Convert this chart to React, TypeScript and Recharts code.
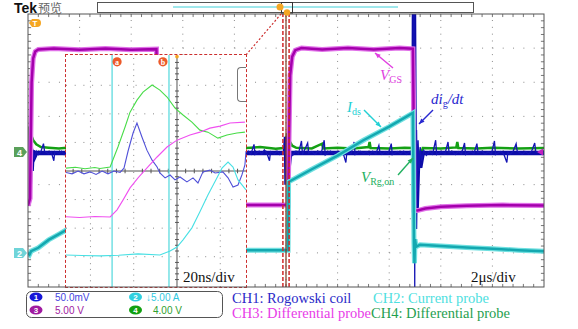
import { LineChart, Line, XAxis, YAxis, ReferenceLine, ReferenceDot } from "recharts";

// main screen: time and amplitude in divisions (2 µs/div)
const mainGridX = [1, 2, 3, 4, 5, 6, 7, 8, 9];
const mainGridY = [-3, -2, -1, 0, 1, 2, 3];
const minorX = Array.from({ length: 49 }, (_, i) => (i + 1) * 0.2);
const minorY = Array.from({ length: 39 }, (_, i) => -3.8 + i * 0.2);

// CH1 Rogowski coil (dig/dt): persistence band and the fast spikes on it
const ch1Band: [number, number][] = [
  [0, -0.07], [0.02, 0.3], [0.035, -1.0], [0.05, 0.25], [0.07, -0.6], [0.09, 0.0], [0.12, -0.2],
  [0.16, -0.07], [2.45, -0.07], [2.5, 0.4], [2.51, -1.0], [2.53, 0.2], [2.56, -0.4], [2.6, -0.07],
  [4.98, -0.07], [5.0, 0.4], [5.01, -1.0], [5.03, 0.2], [5.05, -0.5], [5.08, -0.07], [7.47, -0.07],
  [7.48, 4.0], [7.5, -2.3], [7.51, -1.0], [7.53, -1.8], [7.56, -0.3], [7.6, -0.5],
  [7.65, -0.07], [10, -0.07],
];
const ch1Main: [number, number][] = [
  [0, -0.06], [0.02, 0.3], [0.035, -1.0], [0.05, 0.25], [0.07, -0.6], [0.09, 0.05], [0.12, -0.25],
  [0.16, -0.02], [0.2, -0.12], [0.25, -0.03], [0.3, 0.2], [0.32, -0.02], [0.4, -0.1], [0.45, -0.04],
  [0.5, -0.3], [0.52, -0.03], [0.6, -0.09], [0.65, -0.02], [0.7, -0.12], [0.75, -0.05],
  [1.5, -0.07], [2.45, -0.07], [2.5, 0.4], [2.51, -1.0], [2.53, 0.2], [2.56, -0.4], [2.6, -0.07], [4.1, -0.07],
  [4.22, -0.08], [4.27, -0.02], [4.32, -0.11], [4.38, 0.18], [4.4, -0.12], [4.48, -0.02], [4.53, -0.1],
  [4.58, 0.02], [4.63, -0.08], [4.68, -0.3], [4.7, -0.03], [4.78, -0.1], [4.83, -0.02], [4.88, -0.12],
  [4.93, -0.04], [4.98, -0.08], [5.0, 0.4], [5.01, -1.0], [5.03, 0.2], [5.05, -0.5], [5.08, -0.05],
  [5.13, -0.14], [5.18, -0.02], [5.24, -0.1], [5.3, 0.28], [5.32, -0.12], [5.42, 0.22], [5.44, -0.08],
  [5.5, -0.03], [5.56, -0.11], [5.62, -0.02], [5.68, -0.1], [5.74, 0.3], [5.76, -0.13], [5.86, -0.02],
  [5.92, -0.09], [5.98, -0.03], [6.04, -0.11], [6.1, -0.04], [6.16, -0.35], [6.18, -0.06], [6.26, -0.1],
  [6.32, 0.25], [6.34, -0.12], [6.44, -0.02], [6.5, -0.09], [6.56, -0.04], [6.62, -0.12], [6.68, -0.02],
  [6.74, -0.1], [6.8, 0.15], [6.82, -0.04], [6.86, -0.11], [6.92, -0.03], [6.98, -0.1], [7.04, 0.2],
  [7.06, -0.12], [7.16, -0.03], [7.22, -0.1], [7.28, -0.02], [7.34, -0.11], [7.4, -0.03], [7.45, -0.09],
  [7.47, -0.05], [7.48, 4.0], [7.49, -1.5], [7.495, -4.0], [7.5, 2.5], [7.505, -2.3], [7.51, 1.2],
  [7.52, -2.2], [7.53, 0.6], [7.545, -1.2], [7.56, 0.3], [7.58, -0.6], [7.6, 0.1], [7.63, -0.3],
  [7.67, 0.0], [7.72, -0.14], [7.78, -0.03], [7.84, -0.11], [7.9, 0.3], [7.92, -0.12], [8.02, -0.03],
  [8.08, -0.1], [8.14, 0.25], [8.16, -0.06], [8.22, -0.02], [8.28, -0.12], [8.34, -0.03], [8.4, -0.1],
  [8.46, 0.22], [8.48, -0.12], [8.58, -0.03], [8.64, -0.1], [8.7, 0.2], [8.72, -0.06], [8.8, -0.02],
  [8.86, -0.11], [8.92, -0.04], [8.98, -0.1], [9.04, 0.28], [9.06, -0.12], [9.16, -0.03], [9.22, -0.1],
  [9.28, -0.35], [9.3, -0.05], [9.34, -0.11], [9.4, -0.03], [9.46, 0.2], [9.48, -0.02], [9.58, -0.11],
  [9.64, -0.03], [9.7, -0.1], [9.76, -0.02], [9.82, 0.22], [9.84, -0.03], [9.94, -0.1], [10, -0.06],
];

// CH2 current probe (Ids)
const ch2Main: [number, number][] = [
  [0, -3.0], [0.03, -3.05], [0.06, -2.95], [0.2, -2.85], [0.4, -2.62], [0.6, -2.45], [0.74, -2.33],
  [1.5, -1.6], [2.5, -0.75], [2.52, -2.92], [5.04, -2.92], [5.05, -0.92], [5.5, -0.55], [6.0, -0.15],
  [6.5, 0.3], [7.0, 0.7], [7.46, 1.1], [7.48, -2.7], [7.49, -3.3], [7.5, -2.6], [7.52, -2.82],
  [7.6, -2.76], [8.0, -2.8], [8.5, -2.84], [9.0, -2.88], [9.5, -2.92], [10, -2.95],
];

// CH3 gate-source voltage (VGS)
const ch3Main: [number, number][] = [
  [0, -1.62], [0.04, -1.4], [0.055, 0.5], [0.07, 2.0], [0.1, 2.7], [0.14, 2.9], [0.2, 2.96],
  [0.5, 2.99], [1.0, 2.95], [1.5, 2.99], [2.0, 2.95], [2.49, 2.97], [2.5, -1.62], [3.5, -1.6],
  [5.04, -1.6], [5.06, 0.5], [5.08, 2.2], [5.12, 2.75], [5.18, 2.94], [5.3, 3.0], [5.7, 2.96],
  [6.2, 3.0], [6.7, 2.96], [7.2, 3.0], [7.46, 2.98], [7.47, 1.6], [7.48, -1.75], [7.55, -1.76],
  [7.7, -1.7], [8.0, -1.65], [8.5, -1.62], [9.2, -1.6], [10, -1.61],
];

// CH4 voltage across Rg,on
const ch4Main: [number, number][] = [
  [0, 0.05], [0.02, 0.7], [0.05, 0.5], [0.1, 0.3], [0.16, 0.18], [0.25, 0.1], [0.4, 0.08],
  [0.6, 0.06], [0.75, 0.08], [2.5, 0.07], [2.52, 0.5], [2.6, 0.1], [4.22, 0.07], [4.5, 0.1],
  [4.8, 0.05], [5.0, 0.08], [5.02, 0.5], [5.06, 0.3], [5.12, 0.14], [5.2, 0.08], [5.5, 0.06],
  [5.7, 0.2], [5.72, 0.06], [6.0, 0.08], [6.3, 0.06], [6.6, 0.1], [6.62, 0.25], [6.64, 0.07],
  [7.0, 0.06], [7.3, 0.08], [7.46, 0.07], [7.48, 0.5], [7.5, -0.3], [7.52, -0.6], [7.55, 0.1],
  [7.6, -0.2], [7.65, 0.07], [8.0, 0.06], [8.3, 0.09], [8.32, 0.25], [8.34, 0.07], [8.7, 0.06],
  [9.0, 0.08], [9.5, 0.06], [10, 0.07],
];

// zoomed inset: time in ns (20 ns/div), amplitude in divisions
const insetGridX = [-40, -20, 20];
const insetGridY = [-3, -2, -1, 1, 2, 3];
const insetTickX = [-48, -44, -36, -32, -28, -24, -16, -12, -8, -4, 4, 8, 12, 16, 24, 28];
const insetTickY = [-3.8, -3.6, -3.4, -3.2, -2.8, -2.6, -2.4, -2.2, -1.8, -1.6, -1.4, -1.2, -0.8, -0.6, -0.4, -0.2,
  0.2, 0.4, 0.6, 0.8, 1.2, 1.4, 1.6, 1.8, 2.2, 2.4, 2.6, 2.8, 3.2, 3.4, 3.6, 3.8];
const cursorA = -30;
const cursorB = -3.7;

const ch4Inset: [number, number][] = [
  [-51.3, 0.1], [-47, 0.13], [-42.5, 0.08], [-38, 0.12], [-35.6, 0.09], [-30.9, 0.14], [-27.3, 0.84],
  [-24.0, 1.54], [-21.7, 2.06], [-18.5, 2.48], [-15.7, 2.76], [-11.5, 3.01], [-7.9, 2.83], [-4.6, 2.59],
  [-0.9, 2.2], [2.8, 1.96], [6.9, 1.71], [10.6, 1.43], [14.3, 1.36], [18.9, 1.15], [23.1, 1.26],
  [27.7, 1.33], [31.4, 1.36],
];
const ch1Inset: [number, number][] = [
  [-51.3, -0.05], [-48.5, -0.1], [-45.7, 0.0], [-43.0, -0.1], [-40.2, -0.03], [-37.4, -0.12], [-34.6, 0.0],
  [-31.9, -0.1], [-29.1, 0.0], [-26.3, -0.05], [-24.5, 0.1], [-22.6, 0.7], [-20.3, 1.33], [-18.5, 1.68],
  [-16.2, 1.19], [-13.9, 0.73], [-11.5, 0.38], [-9.2, 0.14], [-7.9, -0.07], [-5.5, -0.24], [-3.2, -0.14],
  [-0.9, -0.31], [1.4, -0.21], [4.6, -0.38], [7.4, -0.24], [9.7, -0.42], [12.0, -0.03], [15.2, 0.03],
  [17.6, -0.07], [21.2, -0.03], [23.6, -0.24], [25.9, -0.56], [28.2, -0.49], [30.0, -0.14], [31.4, 0.21],
  [31.9, 0.7],
];
const ch3Inset: [number, number][] = [
  [-51.3, -1.6], [-45, -1.63], [-38, -1.59], [-30.9, -1.61], [-27.7, -1.36], [-24.9, -1.01], [-21.7, -0.59],
  [-18.0, -0.24], [-14.8, 0.03], [-9.2, 0.49], [-4.6, 0.84], [0, 1.08], [6.0, 1.26], [10.6, 1.36],
  [15.2, 1.5], [19.9, 1.57], [24.5, 1.68], [31.4, 1.71],
];
const ch2Inset: [number, number][] = [
  [-51.3, -2.94], [-44, -2.96], [-35.6, -2.97], [-27, -2.95], [-18.0, -2.9], [-7.9, -2.94], [-3.2, -2.8],
  [0, -2.66], [2.8, -2.41], [6.9, -1.99], [10.6, -1.43], [14.3, -0.84], [18.5, -0.24], [20.8, 0.1],
  [23.6, 0.31], [25.9, 0.14], [28.2, -0.31], [31.9, -0.66],
];

const pts = (a: [number, number][]) => a.map(([t, v]) => ({ t, v }));

const serif = "'Liberation Serif', 'Times New Roman', serif";
const sans = "'Liberation Sans', Arial, sans-serif";

function Arrow({ x1, y1, x2, y2, color }: { x1: number; y1: number; x2: number; y2: number; color: string }) {
  const a = Math.atan2(y2 - y1, x2 - x1);
  const l = 6;
  const p1 = `${x2 - l * Math.cos(a - 0.4)},${y2 - l * Math.sin(a - 0.4)}`;
  const p2 = `${x2 - l * Math.cos(a + 0.4)},${y2 - l * Math.sin(a + 0.4)}`;
  return (
    <g>
      <line x1={x1} y1={y1} x2={x2} y2={y2} stroke={color} strokeWidth={1.4} />
      <polygon points={`${x2},${y2} ${p1} ${p2}`} fill={color} />
    </g>
  );
}

export default function App() {
  return (
    <div style={{ position: "absolute", left: 0, top: 0, width: 578, height: 329, background: "#fff", overflow: "hidden" }}>
      <div style={{ position: "absolute", left: 0, top: 0 }}>
        <LineChart width={578} height={329} margin={{ top: 14, right: 34, bottom: 42, left: 28 }}>
          <XAxis type="number" dataKey="t" domain={[0, 10]} hide allowDataOverflow />
          <YAxis type="number" domain={[-4, 4]} hide allowDataOverflow />
          {mainGridX.map((x) => (
            <ReferenceLine key={"gx" + x} x={x} stroke="#8a8a8a" strokeDasharray="1 5.82" />
          ))}
          {mainGridY.map((y) => (
            <ReferenceLine key={"gy" + y} y={y} stroke="#8a8a8a" strokeDasharray="1 9.32" />
          ))}
          {minorX.map((x) => (
            <ReferenceLine key={"tt" + x} segment={[{ x, y: 4 }, { x, y: 3.91 }]} stroke="#777" />
          ))}
          {minorX.map((x) => (
            <ReferenceLine key={"tb" + x} segment={[{ x, y: -4 }, { x, y: -3.91 }]} stroke="#777" />
          ))}
          {minorY.map((y) => (
            <ReferenceLine key={"tl" + y} segment={[{ x: 0, y }, { x: 0.06, y }]} stroke="#777" />
          ))}
          {minorY.map((y) => (
            <ReferenceLine key={"tr" + y} segment={[{ x: 9.94, y }, { x: 10, y }]} stroke="#777" />
          ))}
          <Line data={pts(ch4Main)} dataKey="v" stroke="#14a014" strokeWidth={2.5} dot={false} isAnimationActive={false} />
          <Line data={pts(ch1Band)} dataKey="v" stroke="#0c0ca8" strokeWidth={4.5} dot={false} isAnimationActive={false} />
          <Line data={pts(ch1Main)} dataKey="v" stroke="#1414b4" strokeWidth={1.3} dot={false} isAnimationActive={false} />
          <Line data={pts(ch3Main)} dataKey="v" stroke="#e070e8" strokeWidth={5} dot={false} isAnimationActive={false} />
          <Line data={pts(ch3Main)} dataKey="v" stroke="#a400ac" strokeWidth={2.5} dot={false} isAnimationActive={false} />
          <Line data={pts(ch2Main)} dataKey="v" stroke="#6fe0e0" strokeWidth={5} dot={false} isAnimationActive={false} />
          <Line data={pts(ch2Main)} dataKey="v" stroke="#14a8b0" strokeWidth={2.5} dot={false} isAnimationActive={false} />
          <ReferenceLine x={4.94} stroke="#d02828" strokeWidth={1.5} strokeDasharray="4 2" />
          <ReferenceLine x={5.0} stroke="#7a3a20" strokeWidth={1.2} />
          <ReferenceLine x={5.06} stroke="#d02828" strokeWidth={1.5} strokeDasharray="4 2" />
        </LineChart>
      </div>

      {/* zoomed inset, 20 ns/div */}
      <div style={{ position: "absolute", left: 66, top: 55, width: 180, height: 232, background: "#fff" }}>
        <LineChart width={180} height={232} margin={{ top: 0, right: 0, bottom: 0, left: 0 }}>
          <XAxis type="number" dataKey="t" domain={[-51.3, 31.9]} hide allowDataOverflow />
          <YAxis type="number" domain={[-4.06, 4.06]} hide allowDataOverflow />
          {insetGridX.map((x) => (
            <ReferenceLine key={"ix" + x} x={x} stroke="#8a8a8a" strokeDasharray="1 4.7" />
          ))}
          {insetGridY.map((y) => (
            <ReferenceLine key={"iy" + y} y={y} stroke="#8a8a8a" strokeDasharray="1 7.7" />
          ))}
          <ReferenceLine x={0} stroke="#555" />
          <ReferenceLine y={0} stroke="#555" />
          {insetTickX.map((x) => (
            <ReferenceLine key={"tx" + x} segment={[{ x, y: -0.08 }, { x, y: 0.08 }]} stroke="#555" />
          ))}
          {insetTickY.map((y) => (
            <ReferenceLine key={"ty" + y} segment={[{ x: -0.9, y }, { x: 0.9, y }]} stroke="#555" />
          ))}
          <ReferenceLine x={cursorA} stroke="#50d8dc" strokeWidth={1.2} />
          <ReferenceLine x={cursorB} stroke="#50d8dc" strokeWidth={1.2} />
          <Line data={pts(ch4Inset)} dataKey="v" stroke="#48dc48" strokeWidth={1.1} dot={false} isAnimationActive={false} />
          <Line data={pts(ch1Inset)} dataKey="v" stroke="#5050d8" strokeWidth={1.1} dot={false} isAnimationActive={false} />
          <Line data={pts(ch3Inset)} dataKey="v" stroke="#f050f0" strokeWidth={1.1} dot={false} isAnimationActive={false} />
          <Line data={pts(ch2Inset)} dataKey="v" stroke="#48e0e4" strokeWidth={1.1} dot={false} isAnimationActive={false} />
          <ReferenceDot x={-27.7} y={3.82} r={4.6} fill="#ec5a2a" stroke="none"
            label={{ value: "a", position: "center", fill: "#fff", fontSize: 8, fontWeight: 700 }} />
          <ReferenceDot x={-6.5} y={3.82} r={4.6} fill="#ec5a2a" stroke="none"
            label={{ value: "b", position: "center", fill: "#fff", fontSize: 8, fontWeight: 700 }} />
          <ReferenceDot x={0} y={4.0} r={1.8} fill="#f5a623" stroke="none" />
        </LineChart>
      </div>
      <div style={{ position: "absolute", left: 65, top: 54, width: 182, height: 234, boxSizing: "border-box", border: "1.5px dashed #cc2e2e" }} />
      <div style={{ position: "absolute", left: 237, top: 67, width: 9, height: 35, boxSizing: "border-box", border: "1px solid #777", borderRight: "none", borderRadius: "4px 0 0 4px" }} />

      <svg width={578} height={329} style={{ position: "absolute", left: 0, top: 0, pointerEvents: "none" }}>
        {/* screen frame */}
        <rect x={28} y={14} width={516} height={273} fill="none" stroke="#555" strokeWidth={1} />

        {/* record bar and header */}
        <text x={14} y={13} fontFamily={sans} fontWeight={700} fontSize={14} fill="#111">Tek</text>
        <text x={38} y={13} fontFamily="'Noto Sans CJK SC', sans-serif" fontSize={12} fill="#666">预览</text>
        <rect x={97.5} y={2.5} width={376} height={10} fill="#fff" stroke="#555" />
        <line x1={173} y1={7} x2={398} y2={7} stroke="#40d0d8" strokeWidth={1} />
        <rect x={281.5} y={2.5} width={11} height={10.5} fill="none" stroke="#333" />
        <circle cx={280} cy={7} r={3.5} fill="#f5a623" />
        <circle cx={287} cy={12.5} r={3.2} fill="#f5a623" />
        <line x1={246} y1={55} x2={281} y2={14} stroke="#cc2e2e" strokeWidth={1.2} strokeDasharray="2 2" />

        {/* channel markers */}
        <path d="M29,23 L32,19 H37 A4,4 0 0 1 37,27 H32 Z" fill="#f5a623" />
        <text x={35} y={26} fontFamily={sans} fontWeight={700} fontSize={8} fill="#fff" textAnchor="middle">T</text>
        <path d="M14,147 H23 L27,152 L23,157 H14 Z" fill="#5aa05a" />
        <text x={19.5} y={155.5} fontFamily={sans} fontWeight={700} fontSize={9} fill="#fff" textAnchor="middle">4</text>
        <path d="M14,248 H23 L27,253 L23,258 H14 Z" fill="#6fd4d8" />
        <text x={19.5} y={256.5} fontFamily={sans} fontWeight={700} fontSize={9} fill="#fff" textAnchor="middle">2</text>
        <polygon points="537,152 543,148.5 543,155.5" fill="#c020c0" />

        {/* annotations */}
        <Arrow x1={393} y1={68} x2={375} y2={53} color="#e040e0" />
        <text x={380} y={80} fontFamily={serif} fontSize={15} fill="#e040e0">
          <tspan fontStyle="italic">V</tspan><tspan fontSize={10} dy={3}>GS</tspan>
        </text>
        <Arrow x1={364} y1={110} x2={381} y2={127} color="#22d0d4" />
        <text x={347} y={112} fontFamily={serif} fontSize={15} fill="#22d0d4">
          <tspan fontStyle="italic">I</tspan><tspan fontSize={10} dy={3}>ds</tspan>
        </text>
        <Arrow x1={433} y1={110} x2={419} y2={124} color="#2828d0" />
        <text x={431} y={104} fontFamily={serif} fontSize={15} fill="#2828d0">
          <tspan fontStyle="italic">di</tspan><tspan fontSize={10} dy={3}>g</tspan><tspan fontStyle="italic" dy={-3}>/dt</tspan>
        </text>
        <Arrow x1={398} y1={175} x2={413} y2={158} color="#22b060" />
        <text x={361} y={182} fontFamily={serif} fontSize={15} fill="#22b060">
          <tspan fontStyle="italic">V</tspan><tspan fontSize={10} dy={3}>Rg,on</tspan>
        </text>
        <text x={183} y={282} fontFamily={serif} fontSize={15} fill="#111">20ns/div</text>
        <text x={471} y={282} fontFamily={serif} fontSize={15} fill="#111">2μs/div</text>

        {/* readout box */}
        <rect x={26.5} y={291.5} width={196} height={26} rx={5} fill="#fff" stroke="#555" />
        <ellipse cx={36} cy={297} rx={6.5} ry={4.5} fill="#1818d8" />
        <text x={36} y={300} fontFamily={sans} fontWeight={700} fontSize={8} fill="#fff" textAnchor="middle">1</text>
        <text x={55} y={300.5} fontFamily={sans} fontSize={10} fill="#4444e0">50.0mV</text>
        <ellipse cx={135.5} cy={297} rx={6.5} ry={4.5} fill="#30d0e0" />
        <text x={135.5} y={300} fontFamily={sans} fontWeight={700} fontSize={8} fill="#fff" textAnchor="middle">2</text>
        <text x={146} y={300.5} fontFamily={sans} fontSize={10} fill="#30c8e0">↓5.00 A</text>
        <ellipse cx={36} cy={310} rx={6.5} ry={4.5} fill="#a01aa0" />
        <text x={36} y={313} fontFamily={sans} fontWeight={700} fontSize={8} fill="#fff" textAnchor="middle">3</text>
        <text x={55} y={313.5} fontFamily={sans} fontSize={10} fill="#a020a0">5.00 V</text>
        <ellipse cx={135.5} cy={310} rx={6.5} ry={4.5} fill="#10a010" />
        <text x={135.5} y={313} fontFamily={sans} fontWeight={700} fontSize={8} fill="#fff" textAnchor="middle">4</text>
        <text x={153} y={313.5} fontFamily={sans} fontSize={10} fill="#30a030">4.00 V</text>

        {/* channel captions */}
        <text x={232} y={303} fontFamily={serif} fontSize={14.5} fill="#2a2ac8">CH1: Rogowski coil</text>
        <text x={373} y={303} fontFamily={serif} fontSize={14.5} fill="#4ee0e0">CH2: Current probe</text>
        <text x={232} y={318} fontFamily={serif} fontSize={14.5} fill="#e83ce8">CH3: Differential probe</text>
        <text x={371} y={318} fontFamily={serif} fontSize={14.5} fill="#1fa050">CH4: Differential probe</text>
      </svg>
    </div>
  );
}
